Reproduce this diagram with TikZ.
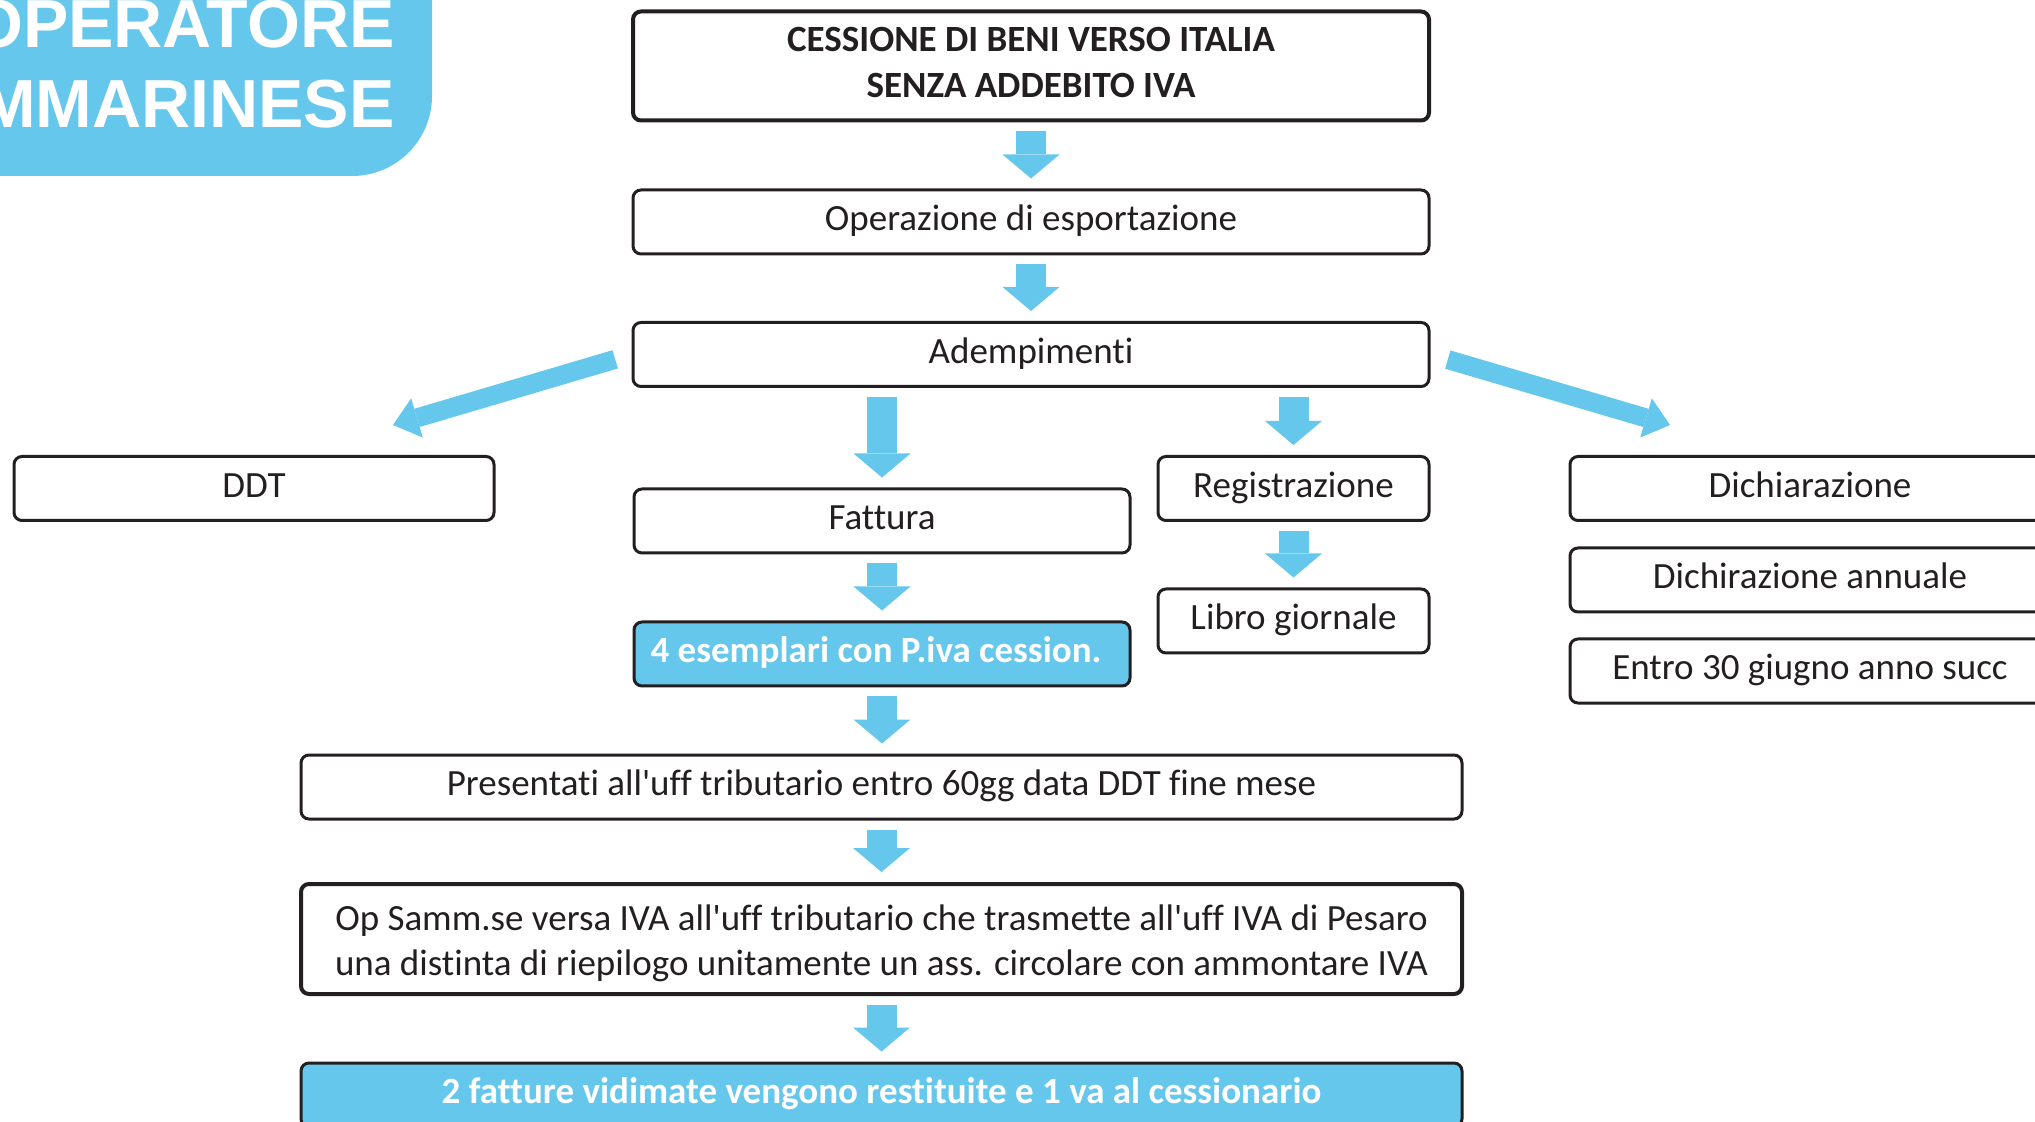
\documentclass[tikz,border=0pt]{standalone}
\usepackage{fontspec}
\setmainfont{Carlito}[Ligatures={TeXOff,NoCommon}]
\newfontfamily\headfont{Liberation Sans}
\usetikzlibrary{arrows.meta}

\definecolor{azzurro}{RGB}{102,199,236}
\definecolor{inchiostro}{RGB}{35,31,32}

\tikzset{
  casella/.style={draw=inchiostro, line width=1.5pt, rounded corners=4pt, fill=white,
    text=inchiostro, inner sep=0pt, minimum height=32pt, align=center,
    font=\fontsize{18.5}{22.5}\selectfont},
  riga/.style={text height=12pt, text depth=3.4pt},
  evidenza/.style={casella, fill=azzurro, text=white,
    font=\fontsize{18.5}{22.5}\selectfont\bfseries},
  titolo/.style={anchor=base east, inner sep=0pt, text=white,
    font=\headfont\bfseries\fontsize{34}{40}\selectfont},
  freccia/.style={azzurro, line width=15pt,
    -{Triangle[width=28.5pt,length=12pt,line width=0pt]},
    shorten <=4.5pt, shorten >=5pt},
  obliqua/.style={azzurro, line width=9.5pt,
    -{Triangle[width=20.5pt,length=12.5pt,line width=0pt]}}
}

\begin{document}
\begin{tikzpicture}[x=0.5pt, y=-0.5pt]
        \useasboundingbox (0,0) rectangle (2035,1122);
        \clip (0,0) rectangle (2035,1122);

        % Intestazione
        \fill[azzurro, rounded corners=40pt] (-200,-200) -- (432,-200) -- (432,176) -- (-200,176) -- cycle;
        \node[titolo] (tit1) at (395,48) {OPERATORE};
        \node[titolo] (tit2) at (395,128) {SAMMARINESE};

        % Colonna centrale
        \node[casella, line width=2pt, minimum width=398pt, minimum height=54.5pt,
              font=\fontsize{18.5}{23}\selectfont\bfseries] (cessione) at (1031,66)
              {\raisebox{0.5pt}[\height][\depth]{\begin{tabular}{@{}c@{}}CESSIONE DI BENI VERSO ITALIA\\SENZA ADDEBITO IVA\end{tabular}}};
        \node[casella, riga, minimum width=398pt] (operazione) at (1031,222) {Operazione di esportazione};
        \node[casella, riga, minimum width=398pt] (adempimenti) at (1031,354.5) {Adempimenti};

        % Adempimenti
        \node[casella, riga, minimum width=240pt] (ddt) at (254,488.5) {DDT};
        \node[casella, riga, minimum width=248pt] (fattura) at (882,521) {Fattura};
        \node[evidenza, riga, minimum width=248pt] (esemplari) at (882,654) {4 esemplari con P.iva cession.\hspace*{6pt}};
        \node[casella, riga, minimum width=135.5pt] (registrazione) at (1293.5,488.5) {Registrazione};
        \node[casella, riga, minimum width=135.5pt] (libro) at (1293.5,621) {Libro giornale};
        \node[casella, riga, minimum width=240pt] (dichiarazione) at (1810,488.5) {Dichiarazione};
        \node[casella, riga, minimum width=240pt] (annuale) at (1810,580) {Dichirazione annuale};
        \node[casella, riga, minimum width=240pt] (entro) at (1810,671) {Entro 30 giugno anno succ};

        % Ufficio tributario
        \node[casella, riga, minimum width=580.5pt] (presentati) at (881.5,787)
              {Presentati all'uff tributario entro 60gg data DDT fine mese};
        \node[casella, line width=2pt, minimum width=580.5pt, minimum height=55pt] (versamento) at (881.5,939)
              {\raisebox{-2.5pt}[\height][\depth]{\begin{tabular}{@{}c@{}}Op Samm.se versa IVA all'uff tributario che trasmette all'uff IVA di Pesaro\\una distinta di riepilogo unitamente un ass. circolare con ammontare IVA\end{tabular}}};
        \node[evidenza, riga, minimum width=580.5pt] (restituite) at (881.5,1095)
              {2 fatture vidimate vengono restituite e 1 va al cessionario};

        % Frecce
        \draw[freccia] (cessione) -- (operazione);
        \draw[freccia] (operazione) -- (adempimenti);
        \draw[freccia] (adempimenti.south -| fattura) -- (fattura);
        \draw[freccia] (adempimenti.south -| registrazione) -- (registrazione);
        \draw[freccia] (registrazione) -- (libro);
        \draw[freccia] (fattura) -- (esemplari);
        \draw[freccia] (esemplari) -- (esemplari |- presentati.north);
        \draw[freccia] (presentati) -- (versamento);
        \draw[freccia] (versamento) -- (restituite);

        % Frecce oblique
        \coordinate (versoddt) at (393,425);
        \coordinate (versodich) at (1670,425);
        \draw[obliqua, shorten <=8.5pt] (adempimenti.west) -- (versoddt);
        \draw[obliqua, shorten <=9pt] (adempimenti.east) -- (versodich);

\end{tikzpicture}
\end{document}
